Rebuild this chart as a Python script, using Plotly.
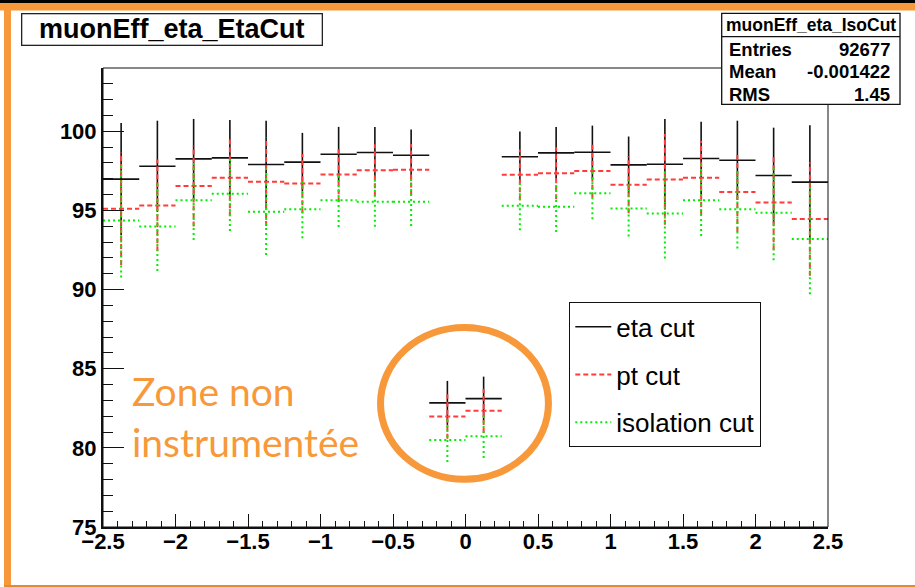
import plotly.graph_objects as go

# ---------------- data ----------------
bin_centers = [-2.375, -2.125, -1.875, -1.625, -1.375, -1.125, -0.875, -0.625, -0.375, -0.125,
               0.125, 0.375, 0.625, 0.875, 1.125, 1.375, 1.625, 1.875, 2.125, 2.375]
bin_half_width = 0.125

eta_cut = [96.98, 97.79, 98.26, 98.32, 97.90, 98.05, 98.55, 98.66, 98.49, 82.84,
           83.11, 98.39, 98.64, 98.68, 97.88, 97.92, 98.28, 98.17, 97.21, 96.79]
eta_err = [3.55, 2.88, 2.52, 2.40, 2.77, 1.85, 1.73, 1.62, 1.62, 1.39,
           1.39, 1.60, 1.64, 1.68, 1.79, 2.86, 2.33, 2.50, 3.02, 3.59]

pt_cut = [95.11, 95.32, 96.54, 97.06, 96.81, 96.70, 97.27, 97.54, 97.57, 81.98,
          82.34, 97.25, 97.35, 97.50, 96.62, 96.96, 97.06, 96.16, 95.51, 94.46]
pt_err = [3.55, 2.90, 2.55, 2.42, 2.80, 1.87, 1.75, 1.64, 1.63, 1.40,
          1.40, 1.60, 1.65, 1.70, 1.80, 2.87, 2.35, 2.52, 3.02, 3.58]

iso_cut = [94.37, 93.98, 95.65, 96.05, 94.92, 95.07, 95.65, 95.55, 95.55, 80.49,
           80.74, 95.30, 95.24, 96.09, 95.13, 94.80, 95.65, 95.07, 94.86, 93.20]
iso_err = [3.60, 2.80, 2.52, 2.35, 2.73, 1.83, 1.70, 1.58, 1.54, 1.39,
           1.38, 1.55, 1.60, 1.65, 1.78, 2.84, 2.27, 2.47, 3.00, 3.50]

series_names = ["eta cut", "pt cut", "isolation cut"]
stats_title = "muonEff_eta_IsoCut"
stats_rows = [("Entries", "92677"), ("Mean", "-0.001422"), ("RMS", "1.45")]
canvas_title = "muonEff_eta_EtaCut"
note_text = "Zone non<br>instrumentée"

# ---------------- layout geometry ----------------
W, H = 915, 587
L, R, T, B = 103, 828, 68, 527


def px(x):
    return (x - L) / (R - L)


def py(y):
    return (B - y) / (B - T)


def segments(centers, vals, errs):
    xs, ys = [], []
    for c, v, e in zip(centers, vals, errs):
        xs += [c - bin_half_width, c + bin_half_width, None, c, c, None]
        ys += [v, v, None, v - e, v + e, None]
    return xs, ys


fig = go.Figure()
styles = [
    dict(color="#111111", width=1.6, dash="solid"),
    dict(color="#ff3b3b", width=2, dash="5px,3px"),
    dict(color="#00ee00", width=2, dash="2px,3px"),
]
for name, vals, errs, st, grp in zip(series_names, [eta_cut, pt_cut, iso_cut],
                                     [eta_err, pt_err, iso_err], styles, ["a", "b", "c"]):
    xs, ys = segments(bin_centers, vals, errs)
    fig.add_trace(go.Scatter(x=xs, y=ys, mode="lines", name=name, line=st,
                             legendgroup=grp, hoverinfo="skip"))

font = "Liberation Sans, Arial, sans-serif"
orange = "#f7993a"

shapes = []
# canvas frame decorations
shapes.append(dict(type="rect", xref="paper", yref="paper", x0=px(0), x1=px(W), y0=py(0), y1=py(3),
                   fillcolor="#000000", line=dict(width=0), layer="above"))
shapes.append(dict(type="rect", xref="paper", yref="paper", x0=px(0), x1=px(W), y0=py(3), y1=py(10.5),
                   fillcolor=orange, line=dict(width=0), layer="above"))
shapes.append(dict(type="rect", xref="paper", yref="paper", x0=px(4), x1=px(11), y0=py(3), y1=py(587),
                   fillcolor=orange, line=dict(width=0), layer="above"))
shapes.append(dict(type="rect", xref="paper", yref="paper", x0=px(4), x1=px(W), y0=py(585), y1=py(587),
                   fillcolor="#e48a30", line=dict(width=0), layer="above"))
# plot frame (top/right thin)
shapes.append(dict(type="rect", xref="paper", yref="paper", x0=0, x1=1, y0=0, y1=1,
                   line=dict(color="#111111", width=1), layer="above"))
# circle around the non-instrumented zone
shapes.append(dict(type="circle", xref="x", yref="y", x0=-0.586, x1=0.572, y0=78.02, y1=87.6,
                   line=dict(color=orange, width=7), layer="above"))
# stats box
shapes.append(dict(type="rect", xref="paper", yref="paper", x0=px(721.7), x1=px(900), y0=py(104.3), y1=py(13.3),
                   fillcolor="white", line=dict(color="#111111", width=1.3), layer="above"))
shapes.append(dict(type="line", xref="paper", yref="paper", x0=px(721.7), x1=px(900), y0=py(36.7), y1=py(36.7),
                   line=dict(color="#111111", width=1.3), layer="above"))

annotations = []
annotations.append(dict(xref="paper", yref="paper", x=px(20.7), y=py(13.3), xanchor="left", yanchor="top",
                        text=canvas_title, showarrow=False, width=299, height=30, borderpad=0,
                        bordercolor="#222222", borderwidth=1.3, bgcolor="white", align="center",
                        font=dict(family=font, size=27, color="black", weight="bold")))
annotations.append(dict(xref="paper", yref="paper", x=px(811), y=py(25), xanchor="center", yanchor="middle",
                        text=stats_title, showarrow=False,
                        font=dict(family=font, size=17.5, color="black", weight=600)))
for i, (lab, val) in enumerate(stats_rows):
    yy = py(49.3 + 22.4 * i)
    annotations.append(dict(xref="paper", yref="paper", x=px(727), y=yy, xanchor="left", yanchor="middle",
                            text=lab, showarrow=False,
                            font=dict(family=font, size=18.5, color="black", weight="bold")))
    annotations.append(dict(xref="paper", yref="paper", x=px(892), y=yy, xanchor="right", yanchor="middle",
                            text=val, showarrow=False,
                            font=dict(family=font, size=18.5, color="black", weight="bold")))
annotations.append(dict(xref="paper", yref="paper", x=px(130), y=py(416), xanchor="left", yanchor="middle",
                        text=note_text, showarrow=False, align="left",
                        font=dict(family="Lato, sans-serif", size=39, color=orange)))

fig.update_layout(
    width=W, height=H,
    margin=dict(l=L, r=W - R, t=T, b=H - B),
    paper_bgcolor="white", plot_bgcolor="white",
    showlegend=True,
    legend=dict(x=px(569), y=py(302), xanchor="left", yanchor="top",
                bordercolor="#111111", borderwidth=1.3, bgcolor="white",
                font=dict(family=font, size=26, color="black"),
                tracegroupgap=11, itemwidth=36),
    shapes=shapes, annotations=annotations,
    xaxis=dict(range=[-2.5, 2.5], dtick=0.5, tick0=0, ticks="inside", ticklen=13, tickwidth=1,
               tickcolor="#111111", showline=True, linecolor="#111111", linewidth=2,
               showgrid=False, zeroline=False, ticklabelstandoff=-6,
               tickfont=dict(family=font, size=22, color="black", weight="bold"),
               minor=dict(dtick=0.1, ticks="inside", ticklen=6, tickcolor="#111111", showgrid=False)),
    yaxis=dict(range=[75, 104.0], dtick=5, tick0=0, ticks="inside", ticklen=21, tickwidth=1,
               tickcolor="#111111", showline=True, linecolor="#111111", linewidth=2,
               showgrid=False, zeroline=False,
               tickfont=dict(family=font, size=22, color="black", weight="bold"),
               minor=dict(dtick=1, ticks="inside", ticklen=10, tickcolor="#111111", showgrid=False)),
)

fig.write_html("out.html")
